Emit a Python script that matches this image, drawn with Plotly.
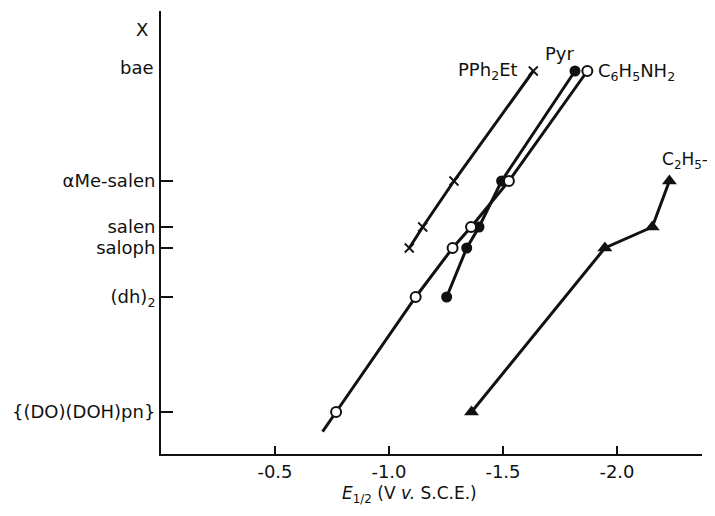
import numpy as np
import plotly.graph_objects as go

# ---- data ----
ligands = ["{(DO)(DOH)pn}", "(dh)<sub>2</sub>", "saloph", "salen", "αMe-salen", "bae"]
lig_y = [4.2, 15.7, 20.6, 22.7, 27.3, 38.3]

pph_lig = ["saloph", "salen", "αMe-salen", "bae"]
pph_E = [-1.089, -1.148, -1.285, -1.633]

pyr_lig = ["(dh)<sub>2</sub>", "saloph", "salen", "αMe-salen", "bae"]
pyr_E = [-1.253, -1.341, -1.395, -1.494, -1.816]

ani_lig = ["{(DO)(DOH)pn}", "(dh)<sub>2</sub>", "saloph", "salen", "αMe-salen", "bae"]
ani_E = [-0.768, -1.117, -1.279, -1.360, -1.526, -1.870]

et_lig = ["{(DO)(DOH)pn}", "saloph", "salen", "αMe-salen"]
et_E = [-1.362, -1.947, -2.155, -2.230]

xtick_vals = [-0.5, -1.0, -1.5, -2.0]
xtick_text = ["-0.5", "-1.0", "-1.5", "-2.0"]

ypos = dict(zip(ligands, lig_y))
FONT = "DejaVu Sans"
BLACK = "#111111"

fig = go.Figure()

def ys(labs):
    return [ypos[l] for l in labs]

# line extension of the aniline line below its lowest point (extrapolated)
ax_e, ay_e = ani_E[:2], ys(ani_lig[:2])
ext_f = 0.17
ext_x = ax_e[0] + (ax_e[0] - ax_e[1]) * ext_f
ext_y = ay_e[0] + (ay_e[0] - ay_e[1]) * ext_f
fig.add_trace(go.Scatter(x=[ext_x, ax_e[0]], y=[ext_y, ay_e[0]], mode="lines",
                         line=dict(color=BLACK, width=3), showlegend=False, hoverinfo="skip"))

# PPh2Et
fig.add_trace(go.Scatter(x=pph_E, y=ys(pph_lig), mode="lines+markers",
                         line=dict(color=BLACK, width=3),
                         marker=dict(symbol="x-thin", size=9, line=dict(color=BLACK, width=1.8)),
                         showlegend=False))
# Pyr
fig.add_trace(go.Scatter(x=pyr_E, y=ys(pyr_lig), mode="lines+markers",
                         line=dict(color=BLACK, width=3),
                         marker=dict(symbol="circle", size=11, color=BLACK),
                         showlegend=False))
# C6H5NH2
fig.add_trace(go.Scatter(x=ani_E, y=ys(ani_lig), mode="lines+markers",
                         line=dict(color=BLACK, width=3),
                         marker=dict(symbol="circle", size=10, color="white",
                                     line=dict(color=BLACK, width=2)),
                         showlegend=False))
# C2H5-
fig.add_trace(go.Scatter(x=et_E, y=ys(et_lig), mode="lines+markers",
                         line=dict(color=BLACK, width=3),
                         marker=dict(symbol="triangle-up", size=13, color=BLACK),
                         showlegend=False))

tfont = dict(family=FONT, size=18, color=BLACK)
ann = []
# series labels
ann.append(dict(x=pph_E[-1], y=ypos["bae"], text="PPh<sub>2</sub>Et", xanchor="right",
                yanchor="middle", xshift=-13, yshift=0, showarrow=False, font=tfont))
ann.append(dict(x=pyr_E[-1], y=ypos["bae"], text="Pyr", xanchor="center",
                yanchor="middle", xshift=-15, yshift=18, showarrow=False, font=tfont))
ann.append(dict(x=ani_E[-1], y=ypos["bae"], text="C<sub>6</sub>H<sub>5</sub>NH<sub>2</sub>",
                xanchor="left", yanchor="middle", xshift=9, yshift=-1, showarrow=False, font=tfont))
ann.append(dict(x=et_E[-1], y=ypos["αMe-salen"], text="C<sub>2</sub>H<sub>5</sub>–",
                xanchor="left", yanchor="middle", xshift=-9, yshift=21, showarrow=False,
                font=dict(family=FONT, size=17, color=BLACK)))
# bae label (no tick)
ann.append(dict(x=0, y=ypos["bae"], xref="paper", text="bae", xanchor="right",
                yanchor="middle", xshift=-5, yshift=4, showarrow=False, font=tfont))
# axis symbol X
ann.append(dict(x=-0.035, y=0.959, xref="paper", yref="paper", text="X", xanchor="center",
                yanchor="middle", showarrow=False, font=dict(family=FONT, size=18, color=BLACK)))
# x axis title
ann.append(dict(x=0.46, y=-0.092, xref="paper", yref="paper",
                text="<i>E</i><sub>1/2</sub> (V <i>v.</i> S.C.E.)", xanchor="center",
                yanchor="middle", showarrow=False, font=dict(family=FONT, size=17, color=BLACK)))

# page body has an 8px margin: figure is offset by (8, 8) in the window
fig.update_layout(
    width=707, height=508,
    margin=dict(l=153, r=13, t=3, b=62),
    paper_bgcolor="white", plot_bgcolor="white",
    annotations=ann,
    xaxis=dict(range=[0, -2.373], showgrid=False, zeroline=False,
               showline=True, linecolor=BLACK, linewidth=2,
               ticks="inside", ticklen=8, tickwidth=1.5, tickcolor=BLACK,
               tickvals=xtick_vals, ticktext=xtick_text,
               tickfont=dict(family=FONT, size=18, color=BLACK)),
    yaxis=dict(range=[0, 44.3], showgrid=False, zeroline=False,
               showline=True, linecolor=BLACK, linewidth=2,
               ticks="inside", ticklen=12, tickwidth=1.5, tickcolor=BLACK,
               tickvals=lig_y[:-1], ticktext=ligands[:-1],
               tickfont=dict(family=FONT, size=18, color=BLACK)),
)

fig.write_html("out.html")
